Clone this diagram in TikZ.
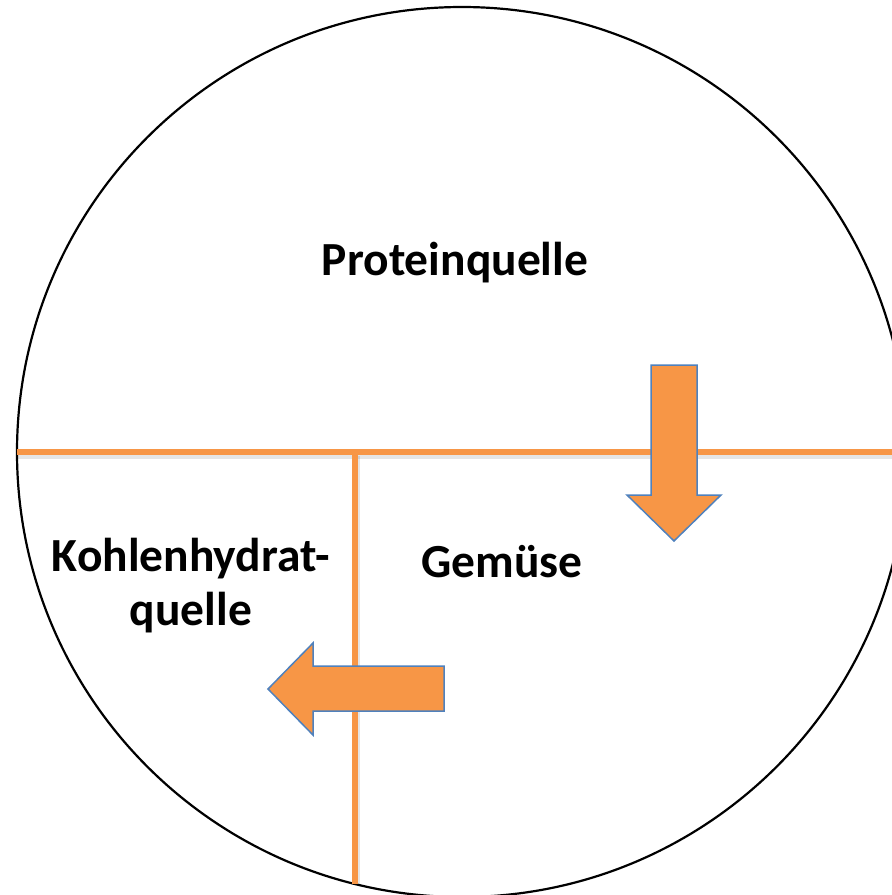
\documentclass[tikz,border=0pt]{standalone}
\usepackage{fontspec}
\setmainfont{Carlito}
\definecolor{oo}{RGB}{247,150,70}
\definecolor{bb}{RGB}{79,129,189}

\begin{document}
\begin{tikzpicture}[x=1pt, y=-1pt,
  divider/.style={line width=6pt, color=oo},
  drop/.style={line width=5pt, color=black, opacity=0.10},
  pointer/.style={fill=oo, draw=bb, line width=1.5pt, line join=miter},
  lbl/.style={font=\bfseries\fontsize{47.5}{54}\selectfont, inner sep=0pt, anchor=base}]
\clip (0,0) rectangle (892,895);
\coordinate (L) at (17,452);
\coordinate (R) at (892,452);
\coordinate (T) at (355,452);
\coordinate (B) at (355,884);
\draw [line width=2.2pt] (462,452) circle [radius=445pt];
% dividers
\draw [drop] ([yshift=-4pt]L) -- ([yshift=-4pt]R);
\draw [divider] (L) -- (R);
\draw [drop] ([xshift=2pt,yshift=-4pt]T) -- ([xshift=2pt]B);
\draw [divider] (T) -- (B);
% arrows
\draw [pointer] (651,365) -- (697,365) -- (697,495) -- (721,495) -- (674,541)
  -- (627,495) -- (651,495) -- cycle;
\draw [pointer] (444,666) -- (444,711) -- (313,711) -- (313,735) -- (268,689)
  -- (313,643) -- (313,666) -- cycle;
% labels
\node (prot) [lbl] at (455,275) {Proteinquelle};
\node (gem) [lbl] at (502,577) {Gemüse};
\node (kh) [lbl, align=center] at (191,625) {Kohlenhydrat-\\quelle};
\end{tikzpicture}
\end{document}
